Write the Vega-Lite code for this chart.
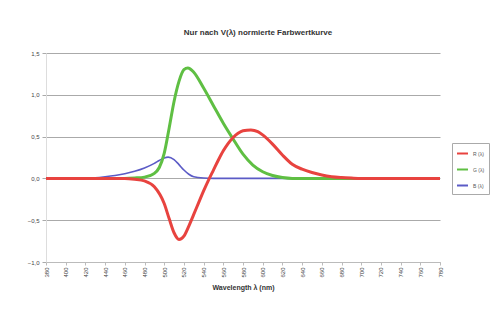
{
  "$schema": "https://vega.github.io/schema/vega-lite/v6.json",
  "width": 394,
  "height": 209,
  "autosize": "none",
  "padding": {"left": 46, "top": 53, "right": 52, "bottom": 47},
  "background": "white",
  "title": {
    "text": "Nur nach V(λ) normierte Farbwertkurve",
    "fontSize": 8,
    "font": "Liberation Sans",
    "fontWeight": "bold",
    "color": "#333",
    "anchor": "middle",
    "dx": 15,
    "offset": 13
  },
  "config": {
    "view": {"stroke": null},
    "axis": {"labelFont": "Liberation Sans", "titleFont": "Liberation Sans", "labelColor": "#444", "labelFontSize": 6}
  },
  "data": {
    "values": [
      {"wl": 380, "s": "B (λ)", "v": 0}, {"wl": 400, "s": "B (λ)", "v": 0}, {"wl": 420, "s": "B (λ)", "v": 0.002}, {"wl": 430, "s": "B (λ)", "v": 0.008},
      {"wl": 440, "s": "B (λ)", "v": 0.02}, {"wl": 450, "s": "B (λ)", "v": 0.035}, {"wl": 460, "s": "B (λ)", "v": 0.055}, {"wl": 470, "s": "B (λ)", "v": 0.085},
      {"wl": 480, "s": "B (λ)", "v": 0.125}, {"wl": 490, "s": "B (λ)", "v": 0.18}, {"wl": 495, "s": "B (λ)", "v": 0.215}, {"wl": 500, "s": "B (λ)", "v": 0.245},
      {"wl": 504, "s": "B (λ)", "v": 0.255}, {"wl": 510, "s": "B (λ)", "v": 0.225}, {"wl": 515, "s": "B (λ)", "v": 0.165}, {"wl": 520, "s": "B (λ)", "v": 0.1},
      {"wl": 525, "s": "B (λ)", "v": 0.05}, {"wl": 530, "s": "B (λ)", "v": 0.02}, {"wl": 540, "s": "B (λ)", "v": 0.004}, {"wl": 550, "s": "B (λ)", "v": 0},
      {"wl": 600, "s": "B (λ)", "v": 0}, {"wl": 700, "s": "B (λ)", "v": 0}, {"wl": 780, "s": "B (λ)", "v": 0},

      {"wl": 380, "s": "G (λ)", "v": 0}, {"wl": 420, "s": "G (λ)", "v": 0}, {"wl": 460, "s": "G (λ)", "v": 0}, {"wl": 470, "s": "G (λ)", "v": 0.005},
      {"wl": 480, "s": "G (λ)", "v": 0.015}, {"wl": 490, "s": "G (λ)", "v": 0.06}, {"wl": 495, "s": "G (λ)", "v": 0.13}, {"wl": 500, "s": "G (λ)", "v": 0.3},
      {"wl": 505, "s": "G (λ)", "v": 0.6}, {"wl": 510, "s": "G (λ)", "v": 0.92}, {"wl": 515, "s": "G (λ)", "v": 1.16}, {"wl": 520, "s": "G (λ)", "v": 1.3},
      {"wl": 524, "s": "G (λ)", "v": 1.32}, {"wl": 530, "s": "G (λ)", "v": 1.27}, {"wl": 540, "s": "G (λ)", "v": 1.08}, {"wl": 550, "s": "G (λ)", "v": 0.87},
      {"wl": 560, "s": "G (λ)", "v": 0.66}, {"wl": 570, "s": "G (λ)", "v": 0.47}, {"wl": 580, "s": "G (λ)", "v": 0.29}, {"wl": 590, "s": "G (λ)", "v": 0.16},
      {"wl": 600, "s": "G (λ)", "v": 0.08}, {"wl": 610, "s": "G (λ)", "v": 0.035}, {"wl": 620, "s": "G (λ)", "v": 0.01}, {"wl": 630, "s": "G (λ)", "v": 0},
      {"wl": 700, "s": "G (λ)", "v": 0}, {"wl": 780, "s": "G (λ)", "v": 0},

      {"wl": 380, "s": "R (λ)", "v": 0}, {"wl": 400, "s": "R (λ)", "v": 0}, {"wl": 420, "s": "R (λ)", "v": 0}, {"wl": 440, "s": "R (λ)", "v": 0}, {"wl": 460, "s": "R (λ)", "v": 0},
      {"wl": 470, "s": "R (λ)", "v": -0.01}, {"wl": 480, "s": "R (λ)", "v": -0.03}, {"wl": 490, "s": "R (λ)", "v": -0.1}, {"wl": 500, "s": "R (λ)", "v": -0.3},
      {"wl": 505, "s": "R (λ)", "v": -0.48}, {"wl": 510, "s": "R (λ)", "v": -0.65}, {"wl": 515, "s": "R (λ)", "v": -0.73}, {"wl": 520, "s": "R (λ)", "v": -0.69},
      {"wl": 525, "s": "R (λ)", "v": -0.57}, {"wl": 530, "s": "R (λ)", "v": -0.43}, {"wl": 535, "s": "R (λ)", "v": -0.29}, {"wl": 540, "s": "R (λ)", "v": -0.15},
      {"wl": 545, "s": "R (λ)", "v": -0.02}, {"wl": 550, "s": "R (λ)", "v": 0.1}, {"wl": 555, "s": "R (λ)", "v": 0.22}, {"wl": 560, "s": "R (λ)", "v": 0.33},
      {"wl": 565, "s": "R (λ)", "v": 0.42}, {"wl": 570, "s": "R (λ)", "v": 0.49}, {"wl": 575, "s": "R (λ)", "v": 0.54}, {"wl": 580, "s": "R (λ)", "v": 0.57},
      {"wl": 588, "s": "R (λ)", "v": 0.58}, {"wl": 595, "s": "R (λ)", "v": 0.56},
      {"wl": 600, "s": "R (λ)", "v": 0.52}, {"wl": 610, "s": "R (λ)", "v": 0.41}, {"wl": 620, "s": "R (λ)", "v": 0.28}, {"wl": 630, "s": "R (λ)", "v": 0.17},
      {"wl": 640, "s": "R (λ)", "v": 0.11}, {"wl": 650, "s": "R (λ)", "v": 0.07}, {"wl": 660, "s": "R (λ)", "v": 0.04}, {"wl": 670, "s": "R (λ)", "v": 0.02},
      {"wl": 680, "s": "R (λ)", "v": 0.01}, {"wl": 690, "s": "R (λ)", "v": 0.004}, {"wl": 700, "s": "R (λ)", "v": 0}, {"wl": 740, "s": "R (λ)", "v": 0}, {"wl": 780, "s": "R (λ)", "v": 0}
    ]
  },
  "encoding": {
    "x": {
      "field": "wl", "type": "quantitative",
      "scale": {"domain": [380, 780], "nice": false, "zero": false},
      "axis": {
        "values": [380,400,420,440,460,480,500,520,540,560,580,600,620,640,660,680,700,720,740,760,780],
        "labelAngle": -90, "grid": false, "tickSize": 3, "domainColor": "#bbb", "tickColor": "#bbb",
        "title": "Wavelength λ (nm)", "titleFontSize": 7, "titleFontWeight": "bold", "titleColor": "#333", "titlePadding": 6
      }
    },
    "y": {
      "field": "v", "type": "quantitative",
      "scale": {"domain": [-1, 1.5], "nice": false},
      "axis": {
        "values": [-1, -0.5, 0, 0.5, 1, 1.5],
        "labelExpr": "replace(format(datum.value, '.1f'), '.', ',')",
        "title": null, "grid": true, "gridColor": "#aaa", "gridWidth": 1,
        "domainColor": "#ddd", "tickColor": "#aaa", "tickSize": 4, "labelPadding": 3
      }
    },
    "color": {
      "field": "s", "type": "nominal",
      "scale": {"domain": ["R (λ)", "G (λ)", "B (λ)"], "range": ["#e8433f", "#5fbf43", "#5b5bc6"]},
      "legend": {
        "title": null, "orient": "none", "legendX": 406, "legendY": 90,
        "symbolType": "stroke", "symbolSize": 120, "symbolStrokeWidth": 2,
        "labelFontSize": 5, "labelFont": "Liberation Sans", "labelColor": "#555",
        "strokeColor": "#aaa", "padding": 4, "rowPadding": 5
      }
    }
  },
  "layer": [
    {
      "transform": [{"filter": "datum.s === 'B (λ)'"}],
      "mark": {"type": "line", "interpolate": "monotone", "strokeWidth": 1.6}
    },
    {
      "transform": [{"filter": "datum.s === 'G (λ)'"}],
      "mark": {"type": "line", "interpolate": "monotone", "strokeWidth": 3}
    },
    {
      "transform": [{"filter": "datum.s === 'R (λ)'"}],
      "mark": {"type": "line", "interpolate": "monotone", "strokeWidth": 3}
    }
  ]
}
